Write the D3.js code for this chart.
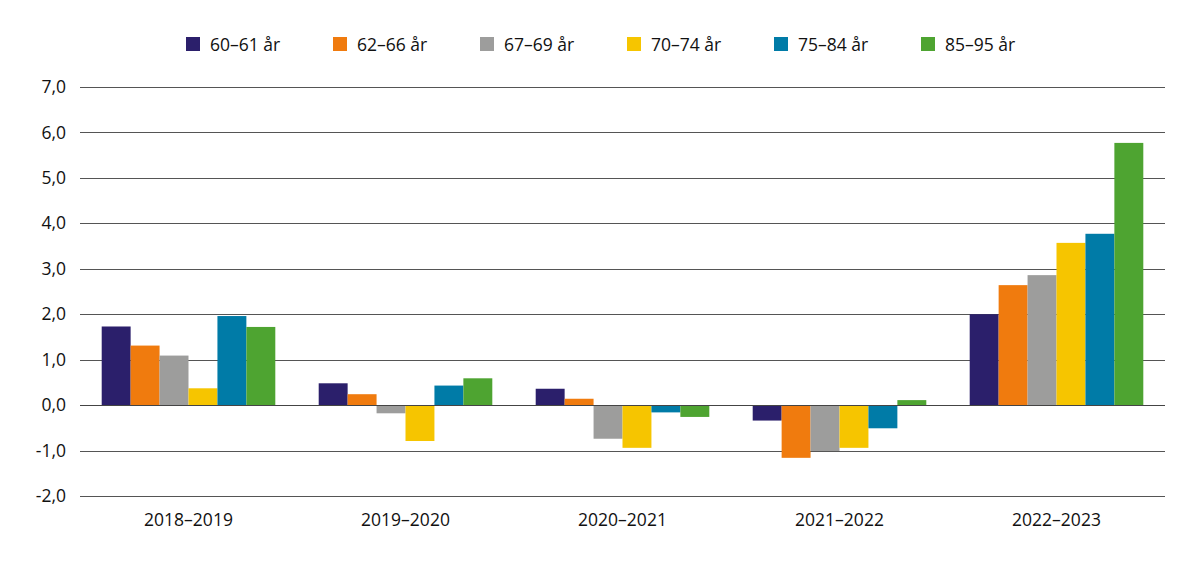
<!DOCTYPE html>
<html>
<head>
<meta charset="utf-8">
<script src="https://cdn.jsdelivr.net/npm/d3@7"></script>
<style>
  body { margin: 0; background: #fff; }
  text { font-family: "Open Sans", sans-serif; fill: #111; }
</style>
</head>
<body>
<div id="chart"></div>
<script>
// Data
const periods = ['2018–2019', '2019–2020', '2020–2021', '2021–2022', '2022–2023'];
const ageGroups = ['60–61 år', '62–66 år', '67–69 år', '70–74 år', '75–84 år', '85–95 år'];
const age60_61 = [1.73, 0.48, 0.36, -0.34, 2.00];
const age62_66 = [1.31, 0.24, 0.14, -1.16, 2.64];
const age67_69 = [1.09, -0.18, -0.74, -1.01, 2.86];
const age70_74 = [0.37, -0.79, -0.94, -0.94, 3.57];
const age75_84 = [1.96, 0.43, -0.16, -0.51, 3.77];
const age85_95 = [1.72, 0.59, -0.26, 0.11, 5.77];
const yTicks = [-2, -1, 0, 1, 2, 3, 4, 5, 6, 7];

const series = [age60_61, age62_66, age67_69, age70_74, age75_84, age85_95];
const colors = ['#2b1f6b', '#f07b0e', '#9d9d9c', '#f6c500', '#007ba7', '#4ea431'];

const width = 1200, height = 569;
const margin = { top: 87, right: 35, bottom: 73, left: 80 };

const svg = d3.select('#chart')
    .append('svg')
    .attr('width', width)
    .attr('height', height);

// Scales
const x0 = d3.scaleBand()
    .domain(periods)
    .range([margin.left, width - margin.right])
    .paddingInner(0.2)
    .paddingOuter(0.1);

const x1 = d3.scaleBand()
    .domain(d3.range(ageGroups.length))
    .range([0, x0.bandwidth()]);

const y = d3.scaleLinear()
    .domain([-2, 7])
    .range([height - margin.bottom, margin.top]);

// Grid lines + y labels (plain hyphen for negatives, comma decimal)
const yAxis = d3.axisLeft(y)
    .tickValues(yTicks)
    .tickSize(-(width - margin.left - margin.right))
    .tickPadding(14)
    .tickFormat(d => d.toFixed(1).replace('.', ','));

const yg = svg.append('g')
    .attr('transform', `translate(${margin.left},0)`)
    .call(yAxis);
yg.select('.domain').remove();
yg.selectAll('.tick line')
    .attr('stroke', '#555')
    .attr('stroke-width', 1)
    .attr('shape-rendering', 'crispEdges');
yg.selectAll('.tick text')
    .style('font-size', '17.5px')
    .style('font-family', '"Open Sans", sans-serif')
    .attr('fill', '#111');

// Bars
const groups = svg.append('g')
    .selectAll('g')
    .data(periods)
    .enter()
    .append('g')
    .attr('transform', d => `translate(${x0(d)},0)`);

groups.selectAll('rect')
    .data((p, i) => series.map((s, k) => ({ k: k, value: s[i] })))
    .enter()
    .append('rect')
    .attr('x', d => x1(d.k))
    .attr('width', x1.bandwidth())
    .attr('y', d => y(Math.max(0, d.value)))
    .attr('height', d => Math.abs(y(d.value) - y(0)))
    .attr('fill', d => colors[d.k]);

// Zero line on top of bars
svg.append('line')
    .attr('x1', margin.left)
    .attr('x2', width - margin.right)
    .attr('y1', Math.round(y(0)) + 0.5)
    .attr('y2', Math.round(y(0)) + 0.5)
    .attr('stroke', '#444')
    .attr('stroke-width', 1);

// X labels
const xAxis = d3.axisBottom(x0).tickSize(0).tickPadding(18);
const xg = svg.append('g')
    .attr('transform', `translate(0,${y(-2)})`)
    .call(xAxis);
xg.select('.domain').remove();
xg.selectAll('.tick text')
    .style('font-size', '17.5px')
    .style('font-family', '"Open Sans", sans-serif')
    .attr('fill', '#111');

// Legend
const legend = svg.append('g')
    .attr('transform', 'translate(186, 37)');

ageGroups.forEach((name, i) => {
    const item = legend.append('g')
        .attr('transform', `translate(${i * 147}, 0)`);

    item.append('rect')
        .attr('width', 14)
        .attr('height', 14)
        .attr('fill', colors[i]);

    item.append('text')
        .attr('x', 24)
        .attr('y', 13.5)
        .style('font-size', '17.5px')
        .text(name);
});
</script>
</body>
</html>
